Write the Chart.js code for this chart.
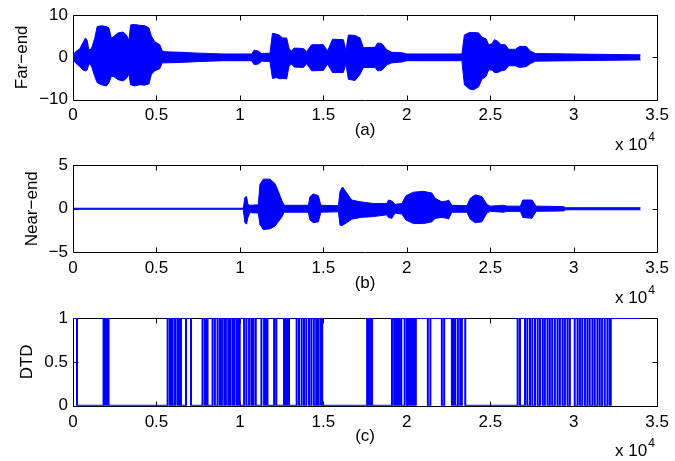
<!DOCTYPE html>
<html><head><meta charset="utf-8">
<script src="https://cdn.jsdelivr.net/npm/chart.js@4"></script>
<style>
html,body{margin:0;padding:0;background:#fff;}
#wrap{position:relative;width:675px;height:461px;overflow:hidden;}
canvas{position:absolute;left:0;}
</style></head><body>
<div id="wrap">
<canvas id="c1" width="675" height="160" style="top:0px"></canvas>
<canvas id="c2" width="675" height="160" style="top:150px"></canvas>
<canvas id="c3" width="675" height="161" style="top:300px"></canvas>
</div>
<script>
// ---------- data ----------
const xTickValues = [0, 5000, 10000, 15000, 20000, 25000, 30000, 35000];
const xTickLabels = ['0', '0.5', '1', '1.5', '2', '2.5', '3', '3.5'];

const farTickValues = [-10, 0, 10];
const farTickLabels = ['\u221210', '0', '10'];
const nearTickValues = [-5, 0, 5];
const nearTickLabels = ['\u22125', '0', '5'];
const dtdTickValues = [0, 0.5, 1];
const dtdTickLabels = ['0', '0.5', '1'];

// (a) far-end signal envelope (sample index, upper, lower)
const farX = [0,200,400,600,750,850,950,1100,1300,1450,1700,2000,2150,2300,2450,2700,3000,3200,3350,3450,3700,4000,4300,4550,4700,4900,5200,5350,5600,6500,7500,9000,10700,10850,11100,11300,11800,11950,12200,12400,12550,12800,12950,13100,13250,13800,14000,14300,15000,15250,15550,16200,16350,16500,16900,17200,17400,18100,18250,18500,18800,19100,19700,20000,23300,23450,23750,24000,24300,24500,24750,24900,25100,25250,25450,25650,25900,26100,26500,26750,27150,27400,27700,34000];
const farUpper = [0.5,1.5,2.0,3.5,4.6,4.0,1.8,2.0,4.5,7.3,7.5,7.3,7.0,4.5,5.0,5.8,6.0,5.3,4.0,7.7,7.8,7.6,7.5,7.0,5.0,3.7,3.0,1.5,1.3,1.2,1.0,0.8,0.8,1.7,1.5,0.9,1.0,5.7,5.5,5.2,4.6,4.6,2.0,1.5,2.2,2.1,1.4,3.0,3.0,1.5,4.3,4.2,1.6,5.3,5.2,4.6,2.3,2.4,3.4,3.3,1.8,1.2,1.1,0.8,0.8,5.3,5.9,5.9,5.8,4.8,4.4,3.0,3.2,4.2,3.8,3.0,3.0,1.9,1.9,2.6,2.6,1.5,0.9,0.6];
const farLower = [-0.5,-1.5,-2.2,-3.0,-3.2,-3.0,-1.5,-2.0,-4.5,-6.0,-6.5,-6.8,-6.0,-4.5,-4.6,-5.3,-5.6,-5.0,-4.0,-6.5,-6.8,-6.5,-6.6,-6.3,-4.0,-3.2,-2.7,-1.3,-1.3,-1.2,-1.0,-0.8,-0.8,-1.7,-1.6,-0.9,-1.0,-5.0,-4.8,-5.1,-5.0,-5.1,-2.0,-1.6,-2.3,-2.4,-1.5,-3.2,-3.1,-1.6,-3.6,-3.6,-1.5,-5.2,-5.5,-4.0,-2.4,-2.4,-3.2,-3.1,-1.8,-1.3,-1.1,-0.8,-0.8,-6.5,-7.5,-7.7,-7.0,-5.2,-4.5,-3.0,-3.0,-3.6,-3.6,-3.2,-3.0,-2.0,-2.0,-2.4,-2.2,-1.5,-0.9,-0.6];

// (b) near-end signal envelope
const nearX = [0,10200,10300,10400,10480,10600,11100,11200,11400,11800,12100,12300,12500,12650,14100,14200,14400,14700,14850,15900,16000,16150,16400,16700,17200,18000,18800,18900,19100,19300,19700,19950,20400,21000,21500,21700,22100,22400,22500,22700,23600,23800,24100,24500,24800,25000,25800,26000,26800,26950,27500,27750,29400,29500,34000];
const nearUpper = [0.06,0.06,1.3,1.4,0.5,0.4,0.45,2.8,3.4,3.4,2.9,2.0,1.0,0.4,0.4,1.4,1.7,1.5,0.4,0.35,2.0,2.5,1.8,1.0,0.8,0.6,0.6,1.0,0.9,0.5,0.6,1.5,1.9,2.0,1.8,1.2,0.8,0.9,1.0,0.4,0.35,1.2,1.6,1.4,0.5,0.3,0.4,0.3,0.3,1.0,1.0,0.3,0.25,0.12,0.12];
const nearLower = [-0.06,-0.06,-1.6,-1.75,-1.0,-0.45,-0.5,-1.8,-2.4,-2.3,-2.0,-1.5,-1.0,-0.4,-0.4,-1.3,-1.6,-1.5,-0.4,-0.35,-1.9,-1.9,-1.6,-1.2,-1.0,-0.9,-0.7,-1.0,-1.1,-0.5,-0.6,-1.3,-1.7,-1.7,-1.5,-1.1,-1.0,-1.1,-1.2,-0.4,-0.4,-1.2,-1.6,-1.5,-0.5,-0.3,-0.4,-0.3,-0.3,-1.0,-1.1,-0.3,-0.25,-0.12,-0.12];

// (c) double-talk detector: initial state, switching instants, end
const dtdStart = 1;
const dtdTransitions = [
  240,
  1830,1950,2050,2130,
  5670,5810,5890,5970,6110,6250,6350,6470,6770,7070,
  7760,7900,7960,8060,
  8360,8500,8660,8800,8920,9060,9160,9300,9420,9560,9660,9800,9910,9990,
  10250,10390,10550,10690,10810,10950,
  11290,11450,11550,11650,
  12050,12180,
  12640,12760,12840,12940,
  13400,13540,13700,13840,13980,14140,14280,14430,14570,14690,14830,14930,
  17620,17700,17800,17920,
  19110,19240,19300,19400,19460,19540,19600,19670,
  19870,20010,20090,20170,20240,20310,20400,20470,20540,
  21260,21410,
  22100,22240,
  22700,22800,22900,23060,23200,23300,23500,
  26640,26780,27080,27220,27380,27520,27680,27840,27980,28140,28270,28430,28570,28710,28870,29030,29170,29330,29470,29630,29770,
  30060,30230,30370,30510,30670,30820,30960,31120,31260,31420,31560,31700,31860,32020,32160,32220
];
const dtdEnd = 34000;

// ---------- drawing ----------
const FONT = '"Liberation Sans", Arial, Helvetica, sans-serif';
const BLUE = '#0000ff';

const matlabPlugin = {
  id: 'matlab',
  beforeDatasetsDraw(chart) {
    const {ctx, chartArea: a, scales: {x, y}} = chart;
    ctx.save();
    ctx.strokeStyle = '#000';
    ctx.lineWidth = 1;
    const L = Math.round(a.left) + 0.5, R = Math.round(a.right) + 0.5;
    const T = Math.round(a.top) + 0.5, B = Math.round(a.bottom) + 0.5;
    ctx.beginPath();
    ctx.rect(L, T, R - L, B - T);
    x.ticks.forEach(t => {
      const p = Math.round(x.getPixelForValue(t.value)) + 0.5;
      ctx.moveTo(p, B); ctx.lineTo(p, B - 5);
      ctx.moveTo(p, T); ctx.lineTo(p, T + 5);
    });
    y.ticks.forEach(t => {
      const p = Math.round(y.getPixelForValue(t.value)) + 0.5;
      ctx.moveTo(L, p); ctx.lineTo(L + 5, p);
      ctx.moveTo(R, p); ctx.lineTo(R - 5, p);
    });
    ctx.stroke();
    ctx.restore();
  },
  afterDraw(chart, args, opts) {
    const {ctx, chartArea: a} = chart;
    ctx.save();
    ctx.fillStyle = '#000';
    ctx.font = '17px ' + FONT;
    ctx.textBaseline = 'middle';
    ctx.textAlign = 'center';
    ctx.fillText(opts.sub, (a.left + a.right) / 2, a.bottom + 31);
    ctx.textAlign = 'right';
    ctx.fillText('x 10', a.right - 10, a.bottom + 46);
    ctx.font = '12px ' + FONT;
    ctx.textAlign = 'left';
    ctx.fillText('4', a.right - 9, a.bottom + 38);
    ctx.restore();
  }
};

function makeChart(id, datasets, yMin, yMax, yVals, yLabs, yTitle, yTitlePad, padTop, xAxisH, sub) {
  return new Chart(document.getElementById(id), {
    type: 'line',
    data: {datasets},
    options: {
      responsive: false,
      animation: false,
      devicePixelRatio: 1,
      layout: {padding: {top: padTop, left: 0, right: 16, bottom: 0}},
      plugins: {legend: {display: false}, tooltip: {enabled: false}, matlab: {sub}},
      elements: {point: {radius: 0}, line: {tension: 0}},
      scales: {
        x: {
          type: 'linear', min: 0, max: 35000,
          grid: {display: false, drawTicks: false}, border: {display: false},
          afterBuildTicks: s => { s.ticks = xTickValues.map(v => ({value: v})); },
          afterFit: s => { s.height = xAxisH; },
          ticks: {autoSkip: false, maxRotation: 0, padding: 6, color: '#000',
                  font: {family: FONT, size: 17},
                  callback: v => xTickLabels[xTickValues.indexOf(v)]}
        },
        y: {
          type: 'linear', min: yMin, max: yMax,
          grid: {display: false, drawTicks: false}, border: {display: false},
          afterBuildTicks: s => { s.ticks = yVals.map(v => ({value: v})); },
          afterFit: s => { s.width = 73; },
          ticks: {padding: 5, color: '#000', font: {family: FONT, size: 17},
                  callback: v => yLabs[yVals.indexOf(v)]},
          title: {display: true, text: yTitle, color: '#000',
                  font: {family: FONT, size: 17}, padding: {top: yTitlePad, bottom: 0}}
        }
      }
    },
    plugins: [matlabPlugin]
  });
}

function envelope(xs, up, lo) {
  return [
    {data: xs.map((x, i) => ({x, y: up[i]})), borderColor: BLUE, backgroundColor: BLUE,
     borderWidth: 1, fill: '+1', pointRadius: 0},
    {data: xs.map((x, i) => ({x, y: lo[i]})), borderColor: BLUE, backgroundColor: BLUE,
     borderWidth: 1, fill: false, pointRadius: 0}
  ];
}

const dtdPoints = [{x: 0, y: dtdStart}];
let st = dtdStart;
for (const t of dtdTransitions) { st = 1 - st; dtdPoints.push({x: t, y: st}); }
dtdPoints.push({x: dtdEnd, y: st});

makeChart('c1', envelope(farX, farUpper, farLower), -10, 10, farTickValues, farTickLabels,
          'Far\u2212end', 12, 13, 60.5, '(a)');
makeChart('c2', envelope(nearX, nearUpper, nearLower), -5, 5, nearTickValues, nearTickLabels,
          'Near\u2212end', 22, 15, 57.7, '(b)');
makeChart('c3', [{data: dtdPoints, stepped: true, borderColor: BLUE, borderWidth: 2,
                  fill: false, pointRadius: 0}], 0, 1, dtdTickValues, dtdTickLabels,
          'DTD', 17, 18, 55.3, '(c)');
</script>
</body></html>
